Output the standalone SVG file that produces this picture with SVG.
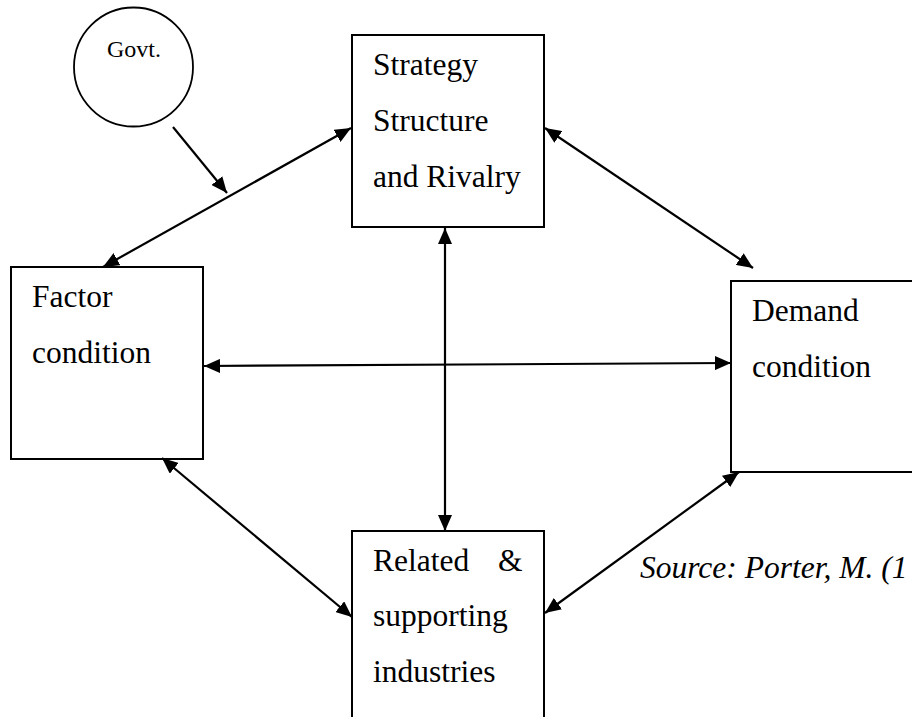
<svg xmlns="http://www.w3.org/2000/svg" width="912" height="717" viewBox="0 0 912 717">
<style>
.box{fill:#fff;stroke:#000;stroke-width:2}
.t{font-family:"Liberation Serif","Times New Roman",serif;font-size:31.5px;fill:#000}
.c{fill:none;stroke:#000;stroke-width:2.2}
</style>
<defs>
<marker id="ah" markerUnits="userSpaceOnUse" markerWidth="16" markerHeight="14" refX="16" refY="7" orient="auto-start-reverse">
<path d="M0,0 L16,7 L0,14 Z" fill="#000"/>
</marker>
</defs>
<rect width="912" height="717" fill="#fff"/>
<g id="govt">
<circle cx="133.5" cy="67" r="59.5" fill="#fff" stroke="#000" stroke-width="1.8"/>
<text x="107" y="57" class="t" style="font-size:24px">Govt.</text>
</g>
<g id="strategy">
<rect class="box" x="352" y="35" width="192" height="192"/>
<text class="t" x="373" y="75">Strategy</text>
<text class="t" x="373" y="131">Structure</text>
<text class="t" x="373" y="187">and Rivalry</text>
</g>
<g id="factor">
<rect class="box" x="11" y="267" width="192" height="192"/>
<text class="t" x="32" y="307">Factor</text>
<text class="t" x="32" y="363">condition</text>
</g>
<g id="demand">
<rect class="box" x="731" y="281" width="192" height="191"/>
<text class="t" x="752" y="321">Demand</text>
<text class="t" x="752" y="377">condition</text>
</g>
<g id="related">
<rect class="box" x="352" y="531" width="192" height="192"/>
<text class="t" x="373" y="571">Related</text>
<text class="t" x="498" y="571">&amp;</text>
<text class="t" x="373" y="626">supporting</text>
<text class="t" x="373" y="682">industries</text>
</g>
<g id="source">
<text class="t" x="640" y="578" font-style="italic">Source: Porter, M. (1</text>
</g>
<g id="connectors">
<line class="c" x1="103" y1="267" x2="351" y2="128" marker-start="url(#ah)" marker-end="url(#ah)"/>
<line class="c" x1="173" y1="127" x2="227" y2="193" marker-end="url(#ah)"/>
<line class="c" x1="545" y1="128" x2="753" y2="268" marker-start="url(#ah)" marker-end="url(#ah)"/>
<line class="c" x1="204" y1="366" x2="731" y2="363" marker-start="url(#ah)" marker-end="url(#ah)"/>
<line class="c" x1="445" y1="228" x2="445" y2="531" marker-start="url(#ah)" marker-end="url(#ah)"/>
<line class="c" x1="162" y1="458" x2="352" y2="617" marker-start="url(#ah)" marker-end="url(#ah)"/>
<line class="c" x1="739" y1="472" x2="545" y2="613" marker-start="url(#ah)" marker-end="url(#ah)"/>
</g>
</svg>
